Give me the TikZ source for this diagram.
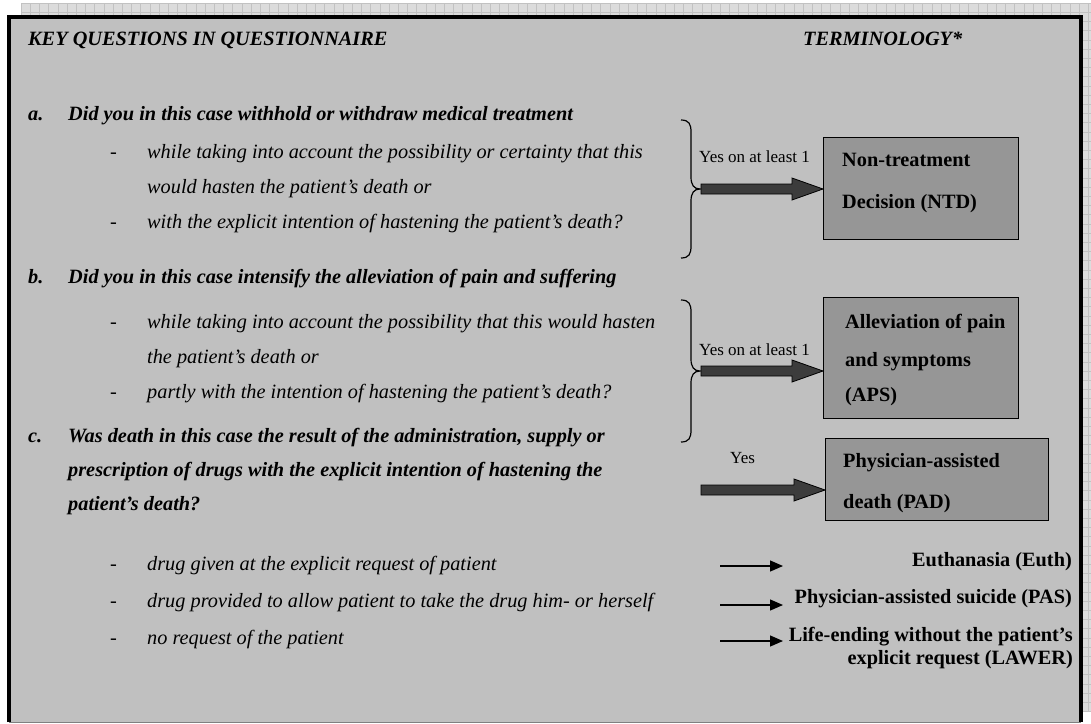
\documentclass[tikz,border=0pt]{standalone}
\usepackage{fontspec}
\setmainfont{Liberation Serif}
\usetikzlibrary{calc,arrows.meta}
\newcommand\fsz{\fontsize{20.3}{24}\selectfont}
\newcommand\fsl{\fontsize{17}{20}\selectfont}
\definecolor{panel}{HTML}{C0C0C0}
\definecolor{boxfill}{HTML}{969696}
\definecolor{arrowfill}{HTML}{3C3C3C}
\definecolor{gridbg}{HTML}{DCDCDC}
\definecolor{gridln}{HTML}{C2C2C2}
\begin{document}
\begin{tikzpicture}[x=1pt,y=-1pt,
  hdr/.style={anchor=base west,inner sep=0,font=\fsz\bfseries\itshape},
  qline/.style={anchor=base west,inner sep=0,font=\fsz\bfseries\itshape},
  subline/.style={anchor=base west,inner sep=0,font=\fsz\itshape},
  dashmark/.style={anchor=base west,inner sep=0,font=\fsz},
  lbl/.style={anchor=base west,inner sep=0,font=\fsl},
  termbox/.style={draw=black,line width=1.3pt,fill=boxfill,anchor=north west,inner sep=0},
  termtext/.style={anchor=base west,inner sep=0,font=\fsz\bfseries},
  subterm/.style={anchor=base east,inner sep=0,font=\fsz\bfseries,align=right},
  fatarrow/.style={draw=black,line width=0.8pt,fill=arrowfill,line join=miter},
  thinarrow/.style={line width=1.2pt,-{Triangle[length=13pt,width=11pt]}},
  bracestyle/.style={line width=1.2pt}
]
\useasboundingbox (0,0) rectangle (1091,723);
\fill[white] (0,0) rectangle (1091,723);
% grid background
\fill[gridbg] (21,3) rectangle (1091,712);
\foreach \i in {0,...,116} \draw[gridln,line width=0.6pt] ({21+9.2*\i},3) -- ({21+9.2*\i},712);
\foreach \j in {0,...,77} \draw[gridln,line width=0.6pt] (21,{3+9.2*\j}) -- (1091,{3+9.2*\j});
% panel
\fill[panel] (9,17) rectangle (1081,722);
\draw[gray,line width=1pt] (9,722) -- (1081,722);
\draw[line width=4pt] (9,722) -- (9,17) -- (1081,17) -- (1081,722);

% headers
\node[hdr] (hq) at (28,45) {KEY QUESTIONS IN QUESTIONNAIRE};
\node[hdr] (ht) at (803,45) {TERMINOLOGY*};

% question a
\node[qline] (al) at (28,120) {a.};
\node[qline] (aq) at (68,120) {Did you in this case withhold or withdraw medical treatment};
\node[dashmark] (ad1) at (110,158) {-};
\node[subline] (as1) at (147,158) {while taking into account the possibility or certainty that this};
\node[subline] (as1b) at (147,193) {would hasten the patient’s death or};
\node[dashmark] (ad2) at (110,228) {-};
\node[subline] (as2) at (147,228) {with the explicit intention of hastening the patient’s death?};

% question b
\node[qline] (bl) at (28,283) {b.};
\node[qline] (bq) at (68,283) {Did you in this case intensify the alleviation of pain and suffering};
\node[dashmark] (bd1) at (110,328) {-};
\node[subline] (bs1) at (147,328) {while taking into account the possibility that this would hasten};
\node[subline] (bs1b) at (147,363) {the patient’s death or};
\node[dashmark] (bd2) at (110,398) {-};
\node[subline] (bs2) at (147,398) {partly with the intention of hastening the patient’s death?};

% question c
\node[qline] (cl) at (28,442) {c.};
\node[qline] (cq1) at (68,442) {Was death in this case the result of the administration, supply or};
\node[qline] (cq2) at (68,476) {prescription of drugs with the explicit intention of hastening the};
\node[qline] (cq3) at (68,510) {patient’s death?};
\node[dashmark] (cd1) at (110,570) {-};
\node[subline] (cs1) at (147,570) {drug given at the explicit request of patient};
\node[dashmark] (cd2) at (110,607) {-};
\node[subline] (cs2) at (147,607) {drug provided to allow patient to take the drug him- or herself};
\node[dashmark] (cd3) at (110,644) {-};
\node[subline] (cs3) at (147,644) {no request of the patient};

% braces
\draw[bracestyle] (681,120) .. controls (689,120) and (691,124) .. (691,132) -- (691,177)
  .. controls (691,185) and (694,189) .. (700,189) .. controls (694,189) and (691,193) .. (691,201)
  -- (691,246) .. controls (691,254) and (689,258) .. (681,258);
\draw[bracestyle] (681,300) .. controls (689,300) and (691,304) .. (691,312) -- (691,359)
  .. controls (691,367) and (694,371) .. (700,371) .. controls (694,371) and (691,375) .. (691,383)
  -- (691,430) .. controls (691,438) and (689,442) .. (681,442);
\coordinate (tipA) at (701,189);
\coordinate (tipB) at (701,371);
\coordinate (tipC) at (701,490);

% term boxes
\node[termbox,minimum width=195,minimum height=102] (ntd) at (823,137) {};
\node[termbox,minimum width=195,minimum height=121] (aps) at (823,297) {};
\node[termbox,minimum width=223,minimum height=82] (pad) at (825,438) {};
\node[termtext] (ntd1) at (842,166) {Non-treatment};
\node[termtext] (ntd2) at (842,208) {Decision (NTD)};
\node[termtext] (aps1) at (845,328) {Alleviation of pain};
\node[termtext] (aps2) at (845,366) {and symptoms};
\node[termtext] (aps3) at (845,401) {(APS)};
\node[termtext] (pad1) at (843,467) {Physician-assisted};
\node[termtext] (pad2) at (843,508) {death (PAD)};

% labels
\node[lbl] (ya) at (699,162) {Yes on at least 1};
\node[lbl] (yb) at (699,355) {Yes on at least 1};
\node[lbl] (yc) at (730,463) {Yes};

% fat arrows
\coordinate (ea) at (ntd.west |- tipA);
\coordinate (eb) at (aps.west |- tipB);
\coordinate (ec) at (pad.west |- tipC);
\foreach \s/\e in {tipA/ea,tipB/eb,tipC/ec}{
  \filldraw[fatarrow] ($(\s)+(0,-5)$) -- ($(\e)+(-31,-5)$) -- ($(\e)+(-31,-11)$) -- (\e)
    -- ($(\e)+(-31,11)$) -- ($(\e)+(-31,5)$) -- ($(\s)+(0,5)$) -- cycle;
}

% sub-terminology
\node[subterm] (euth) at (1072,566) {Euthanasia (Euth)};
\node[subterm] (pas) at (1072,603) {Physician-assisted suicide (PAS)};
\node[subterm,anchor=north east] (lawer) at (1073,627) {\fsz\bfseries Life-ending without the patient’s\\[-0.9pt] explicit request (LAWER)};
\coordinate (t1s) at (720,566);
\coordinate (t1e) at (783,566);
\coordinate (t2s) at (720,605);
\coordinate (t2e) at (783,605);
\coordinate (t3s) at (720,641);
\coordinate (t3e) at (783,641);
\draw[thinarrow] (t1s) -- (t1e);
\draw[thinarrow] (t2s) -- (t2e);
\draw[thinarrow] (t3s) -- (t3e);
\end{tikzpicture}
\end{document}
